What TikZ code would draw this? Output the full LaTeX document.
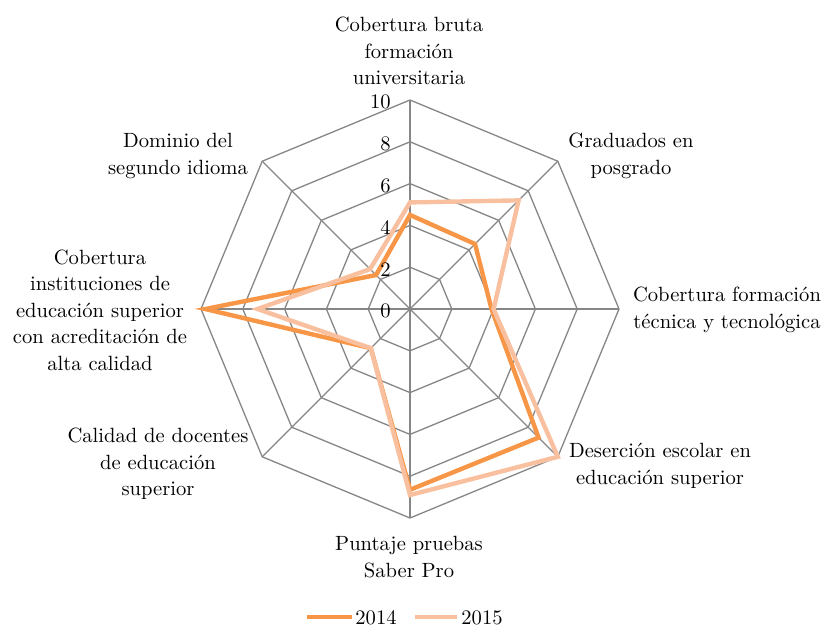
\documentclass[tikz,border=0pt]{standalone}
\usepackage{tikz}
\usetikzlibrary{positioning}

\definecolor{gridgray}{RGB}{134,134,134}
\definecolor{orange2014}{RGB}{247,150,70}
\definecolor{orange2015}{RGB}{249,192,160}
\def\unitr{20.9}

\tikzset{
  gridline/.style={draw=gridgray, line width=0.65pt},
  serie2014/.style={draw=orange2014, line width=2.2pt},
  serie2015/.style={draw=orange2015, line width=2.2pt},
  axislabel/.style={align=center, inner sep=0pt, font=\fontsize{10.3}{13.25}\selectfont},
  ticklabel/.style={anchor=east, inner sep=0pt, font=\fontsize{10.3}{12}\selectfont},
}

\begin{document}
\begin{tikzpicture}[x=0.5pt, y=-0.5pt]
    \useasboundingbox (0,0) rectangle (828,627);
    \coordinate (ctr) at (410,309);
    \begin{scope}[shift={(ctr)}]
      % rings and spokes
      \foreach \r in {2,4,...,10}
        \draw[gridline] (-90:{\r*\unitr}) \foreach \i in {1,...,7} {-- (-90+45*\i:{\r*\unitr})} -- cycle;
      \foreach \i in {0,...,7}
        \draw[gridline] (0,0) -- (-90+45*\i:{10*\unitr});
      % data
      \foreach \v [count=\i from 0] in {4.5,4.4,3.9,8.7,8.65,2.65,9.8,2.3}
        \coordinate (a\i) at (-90+45*\i:{\v*\unitr});
      \foreach \v [count=\i from 0] in {5.1,7.35,4.0,10,8.9,2.65,7.3,2.7}
        \coordinate (b\i) at (-90+45*\i:{\v*\unitr});
      \draw[serie2014] (a0) -- (a1) -- (a2) -- (a3) -- (a4) -- (a5) -- (a6) -- (a7) -- cycle;
      \draw[serie2015] (b0) -- (b1) -- (b2) -- (b3) -- (b4) -- (b5) -- (b6) -- (b7) -- cycle;
    \end{scope}
    % scale numbers
    \foreach \v in {0,2,...,10}
      \node[ticklabel] (tick\v) at (391,{309-\v*\unitr+2}) {\v};
    % axis labels
    \node[axislabel] (cobbruta) at (409,51) {Cobertura bruta\\formación\\universitaria};
    \node[axislabel] (graduados) at (631,156) {Graduados en\\posgrado};
    \node[axislabel] (cobtecnica) at (727,310) {Cobertura formación\\técnica y tecnológica};
    \node[axislabel] (desercion) at (660,466) {Deserción escolar en\\educación superior};
    \node[axislabel] (saberpro) at (409,557) {Puntaje pruebas\\Saber Pro};
    \node[axislabel] (docentes) at (158,464) {Calidad de docentes\\de educación\\superior};
    \node[axislabel] (acreditacion) at (100,310) {Cobertura\\instituciones de\\educación superior\\con acreditación de\\alta calidad};
    \node[axislabel] (idioma) at (178,156) {Dominio del\\segundo idioma};
    % legend
    \coordinate (lgA1) at (307,617);
    \coordinate (lgA2) at (352,617);
    \coordinate (lgB1) at (415,617);
    \coordinate (lgB2) at (457,617);
    \draw[serie2014] (lgA1) -- (lgA2);
    \draw[serie2015] (lgB1) -- (lgB2);
    \node[axislabel, anchor=west] (leg2014) at (355,618) {2014};
    \node[axislabel, anchor=west] (leg2015) at (461,618) {2015};
\end{tikzpicture}
\end{document}
